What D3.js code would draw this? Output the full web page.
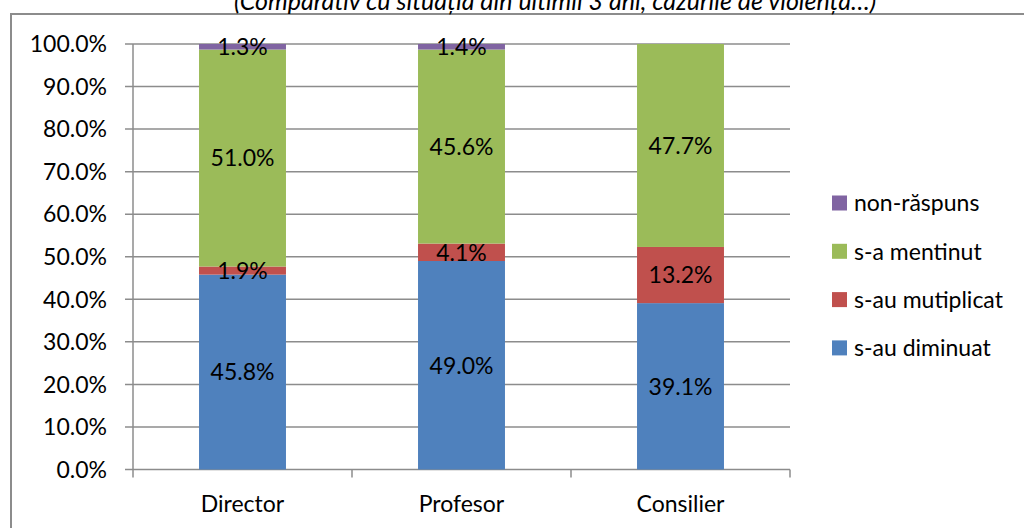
<!DOCTYPE html>
<html><head><meta charset="utf-8">
<script src="https://cdn.jsdelivr.net/npm/d3@7"></script>
<style>
html,body{margin:0;padding:0;background:#fff;overflow:hidden;}
svg text{font-family:Lato,"Open Sans",sans-serif;}
</style></head>
<body>
<svg id="c" width="1024" height="528"></svg>
<script>
const categories = ["Director", "Profesor", "Consilier"];
const seriesNames = ["s-au diminuat", "s-au mutiplicat", "s-a mentinut", "non-răspuns"];
const seriesColors = ["#4F81BD", "#C0504D", "#9BBB59", "#8064A2"];
const diminuat = [45.8, 49.0, 39.1];
const mutiplicat = [1.9, 4.1, 13.2];
const mentinut = [51.0, 45.6, 47.7];
const nonRaspuns = [1.3, 1.4, 0];
const yTicks = [0, 10, 20, 30, 40, 50, 60, 70, 80, 90, 100];
const title = "(Comparativ cu situația din ultimii 3 ani, cazurile de violență…)";

(function () {
const svg = d3.select("#c");
const W = 1024, H = 528;
const pL = 133, pR = 790, pT = 44, pB = 469.5;

// outer border
svg.append("rect").attr("x", 11).attr("y", 14).attr("width", W + 20).attr("height", H + 20)
  .attr("fill", "none").attr("stroke", "#8c8c8c").attr("stroke-width", 2);

// title (cut off at top, as in the reference)
svg.append("text").attr("x", 555).attr("y", 10).attr("text-anchor", "middle")
  .attr("font-style", "italic").attr("font-size", 25).attr("fill", "#000").text(title);

const x = d3.scaleBand().domain(categories).range([pL, pR]).paddingInner(0.603).paddingOuter(0.3015);
const y = d3.scaleLinear().domain([0, 100]).range([pB, pT]);

// gridlines
svg.append("g").selectAll("line").data(yTicks).join("line")
  .attr("x1", pL - 8).attr("x2", pR).attr("y1", d => y(d)).attr("y2", d => y(d))
  .attr("stroke", "#8c8c8c").attr("stroke-width", 1.5);

// y axis line
svg.append("line").attr("x1", pL).attr("x2", pL).attr("y1", pT).attr("y2", pB)
  .attr("stroke", "#8c8c8c").attr("stroke-width", 1.5);

// y tick labels
svg.append("g").selectAll("text").data(yTicks).join("text")
  .attr("x", 107).attr("y", d => y(d)).attr("dy", "0.36em").attr("text-anchor", "end")
  .attr("font-size", 23).attr("fill", "#000").text(d => d.toFixed(1) + "%");

// x ticks
const step = x.step();
const xTickPos = d3.range(categories.length + 1).map(i => pL + i * step);
svg.append("g").selectAll("line").data(xTickPos).join("line")
  .attr("x1", d => d).attr("x2", d => d).attr("y1", pB).attr("y2", pB + 8)
  .attr("stroke", "#8c8c8c").attr("stroke-width", 1.5);

// stacked data
const rows = categories.map((c, i) => ({
  cat: c,
  [seriesNames[0]]: diminuat[i],
  [seriesNames[1]]: mutiplicat[i],
  [seriesNames[2]]: mentinut[i],
  [seriesNames[3]]: nonRaspuns[i]
}));
const stack = d3.stack().keys(seriesNames)(rows);

const g = svg.append("g");
stack.forEach((layer, li) => {
  layer.forEach(d => {
    const v = d[1] - d[0];
    if (v <= 0) return;
    const y0 = y(d[0]), y1 = y(Math.min(d[1], 100));
    g.append("rect").attr("x", x(d.data.cat)).attr("width", x.bandwidth())
      .attr("y", y1).attr("height", y0 - y1).attr("fill", seriesColors[li]);
  });
});
stack.forEach((layer, li) => {
  layer.forEach(d => {
    const v = d[1] - d[0];
    if (v <= 0) return;
    const y0 = y(d[0]), y1 = y(Math.min(d[1], 100));
    g.append("text").attr("x", x(d.data.cat) + x.bandwidth() / 2).attr("y", (y0 + y1) / 2)
      .attr("dy", "0.36em").attr("text-anchor", "middle").attr("font-size", 23)
      .attr("fill", "#000").text(v.toFixed(1) + "%");
  });
});

// category labels
svg.append("g").selectAll("text").data(categories).join("text")
  .attr("x", d => x(d) + x.bandwidth() / 2).attr("y", 512).attr("text-anchor", "middle")
  .attr("font-size", 23).attr("fill", "#000").text(d => d);

// legend (reverse order)
const legendItems = seriesNames.map((n, i) => ({ n, c: seriesColors[i] })).reverse();
const lg = svg.append("g");
legendItems.forEach((d, i) => {
  const cy = 203 + i * 48.3;
  lg.append("rect").attr("x", 832).attr("y", cy - 7.5).attr("width", 15).attr("height", 15).attr("fill", d.c);
  lg.append("text").attr("x", 854).attr("y", cy).attr("dy", "0.36em").attr("font-size", 23)
    .attr("fill", "#000").text(d.n);
});
})();
</script>
</body></html>
